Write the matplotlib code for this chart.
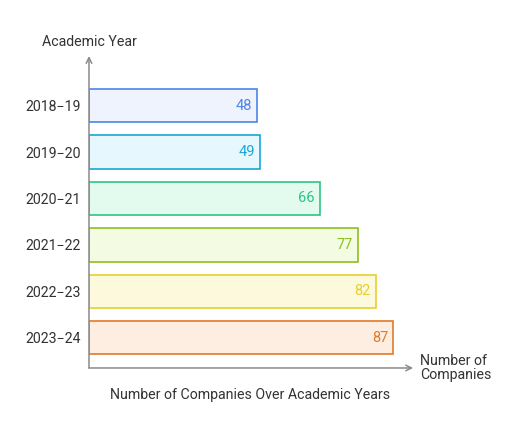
import matplotlib.pyplot as plt

plt.rcParams['font.family'] = ['Roboto', 'DejaVu Sans']

years = ["2018\u221219", "2019\u221220", "2020\u221221", "2021\u221222", "2022\u221223", "2023\u221224"]
companies = [48, 49, 66, 77, 82, 87]
edge_colors = ["#4a86e8", "#1ba6d8", "#2fc483", "#8cc11f", "#e6cf30", "#e07b2a"]
fill_colors = ["#eef3fe", "#e6f7fd", "#e3faef", "#f3fce2", "#fdf9dc", "#fdeee1"]

fig = plt.figure(figsize=(5.12, 4.36), dpi=100)
ax = fig.add_axes([0.1738, 0.156, 0.633, 0.7156])

pos = list(range(len(years)))
ax.barh(pos, companies, height=0.71, color=fill_colors, edgecolor=edge_colors, linewidth=1.2)
for p, v, c in zip(pos, companies, edge_colors):
    ax.text(v - 1.5, p, str(v), ha='right', va='center', color=c, fontsize=10.5)

ax.set_xlim(0, 92.6)
ax.set_ylim(5.645, -1.065)
ax.set_yticks(pos)
ax.set_yticklabels(years, fontsize=10.2, color='#333333')
ax.tick_params(axis='y', length=0, pad=6)
ax.set_xticks([])
for s in ax.spines.values():
    s.set_visible(False)

# axis arrows
ax.annotate('', xy=(0, 1), xytext=(0, 0), xycoords='axes fraction',
            arrowprops=dict(arrowstyle='->', color='#8a8a8a', lw=1.1, shrinkA=0, shrinkB=0))
ax.annotate('', xy=(1, 0), xytext=(0, 0), xycoords='axes fraction',
            arrowprops=dict(arrowstyle='->', color='#8a8a8a', lw=1.1, shrinkA=0, shrinkB=0))

fig.text(89 / 512, 1 - 42 / 436, "Academic Year", ha='center', va='center', fontsize=10.2, color='#333333')
fig.text(420 / 512, 1 - 368 / 436, "Number of\nCompanies", ha='left', va='center', fontsize=10.2,
         color='#333333', linespacing=1.0)
fig.text(250 / 512, 1 - 395 / 436, "Number of Companies Over Academic Years", ha='center', va='center',
         fontsize=10.2, color='#333333')

fig.savefig("out.png", dpi=100)
